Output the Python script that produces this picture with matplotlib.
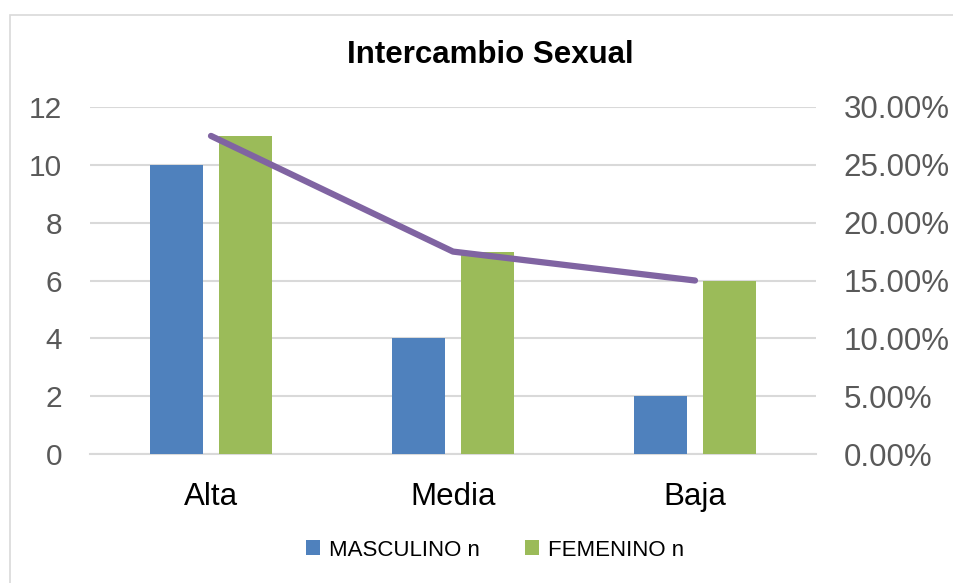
import numpy as np
import matplotlib.pyplot as plt
from matplotlib.patches import Rectangle
from matplotlib.ticker import PercentFormatter

plt.rcParams['font.family'] = ['Liberation Sans', 'DejaVu Sans']

categorias = ['Alta', 'Media', 'Baja']
masculino = [10, 4, 2]
femenino = [11, 7, 6]
porcentaje = [27.5, 17.5, 15.0]

W, H = 954, 583
fig = plt.figure(figsize=(W / 100, H / 100), dpi=100)

# chart frame (cut off at right and bottom like the original)
fig.patches.append(Rectangle((10 / W, -0.1), 1.2, (H - 15) / H + 0.1,
                             transform=fig.transFigure, fill=False,
                             edgecolor='#d9d9d9', linewidth=1.2))

ax = fig.add_axes([90 / W, 1 - 454 / H, (816 - 90) / W, (454 - 107) / H])
x = np.arange(len(categorias))
bw = 0.222
ax.bar(x - 0.143, masculino, bw, color='#4f81bd', label='MASCULINO n', zorder=3)
ax.bar(x + 0.143, femenino, bw, color='#9bbb59', label='FEMENINO n', zorder=3)

ax.set_xlim(-0.5, 2.5)
ax.set_ylim(0, 12)
ax.set_yticks(range(0, 13, 2))
ax.set_xticks(x)
ax.set_xticklabels(categorias, fontsize=22.5, color='black')
ax.tick_params(axis='y', labelsize=21.5, labelcolor='#595959', length=0, pad=20)
ax.tick_params(axis='x', length=0, pad=20)
ax.grid(axis='y', color='#d9d9d9', linewidth=1.5, zorder=0)
for s in ax.spines.values():
    s.set_visible(False)
ax.spines['bottom'].set_visible(True)
ax.spines['bottom'].set_color('#d9d9d9')
ax.spines['bottom'].set_linewidth(1.5)

ax2 = ax.twinx()
ax2.plot(x, porcentaje, color='#8064a2', linewidth=4.5, solid_capstyle='round', zorder=4)
ax2.set_ylim(0, 30)
ax2.set_yticks(range(0, 31, 5))
ax2.yaxis.set_major_formatter(PercentFormatter(decimals=2))
ax2.tick_params(axis='y', labelsize=22.5, labelcolor='#595959', length=0, pad=20)
for s in ax2.spines.values():
    s.set_visible(False)

fig.text(490 / W, 1 - 55 / H, 'Intercambio Sexual',
         ha='center', va='center', fontsize=22.5, fontweight='bold')

fig.legend(loc='center', bbox_to_anchor=(495 / W, 1 - 550 / H), ncol=2,
           frameon=False, fontsize=16, handlelength=0.65, handleheight=0.65,
           columnspacing=2.0, handletextpad=0.4)

fig.savefig('out.png', dpi=100)
